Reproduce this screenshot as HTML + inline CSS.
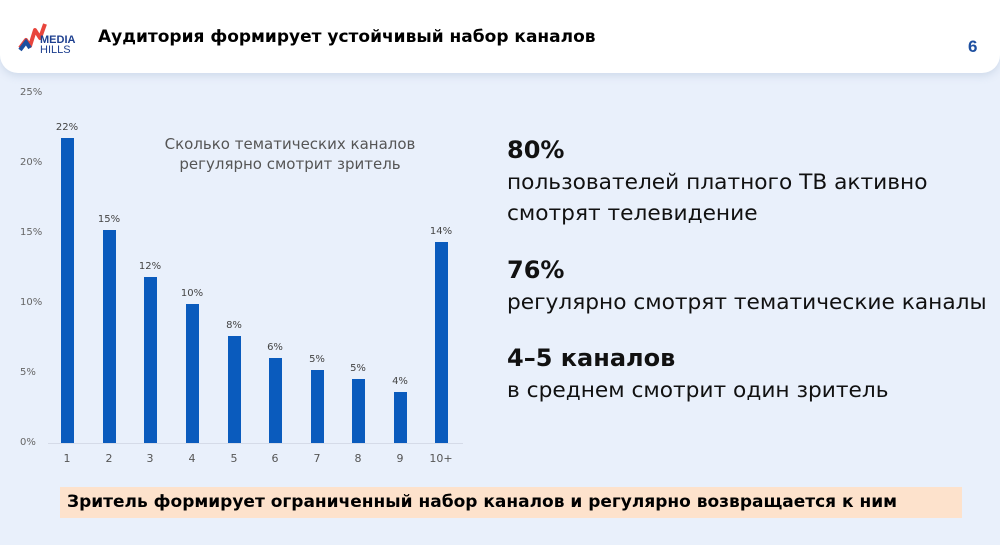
<!DOCTYPE html>
<html><head><meta charset="utf-8"><style>
body{margin:0;width:1000px;height:545px;background:#e9f0fb;font-family:"Liberation Sans","DejaVu Sans",sans-serif;position:relative;overflow:hidden}
.hdr{position:absolute;left:0;top:0;width:1000px;height:73px;background:#fff;border-radius:0 0 18px 18px;box-shadow:0 3px 8px rgba(150,170,200,.3)}
.t{position:absolute;font-weight:bold;color:#000}
.ax{position:absolute;font-size:10px;color:#666;font-family:"DejaVu Sans",sans-serif}
.bar{position:absolute;width:13px;background:#0a5bbd;bottom:102px}
.vl{position:absolute;font-size:10px;color:#444;width:40px;text-align:center;font-family:"DejaVu Sans",sans-serif}
.xl{position:absolute;top:452px;font-size:11px;color:#555;width:40px;text-align:center;font-family:"DejaVu Sans",sans-serif}
.r{position:absolute;left:507px;font-size:21.7px;color:#111;line-height:31px;font-family:"DejaVu Sans",sans-serif;white-space:nowrap}
.r b{font-size:24px}
</style></head><body>
<div class="hdr"></div>
<svg style="position:absolute;left:18px;top:18px" width="30" height="36" viewBox="0 0 30 36">
<path d="M2 30 L8 22 L12 28 L17 12 L22 20 L27 6" fill="none" stroke="#e8453c" stroke-width="4" stroke-linejoin="round"/>
<path d="M2 32 L8 24 L12 30" fill="none" stroke="#1d4fa0" stroke-width="4"/>
</svg>
<div style="position:absolute;left:40px;top:35px;font-size:11px;font-weight:bold;color:#1d3f8f;line-height:10px">MEDIA<br><span style="font-weight:normal">HILLS</span></div>
<div class="t" style="left:98px;top:27px;font-size:17px;font-family:'DejaVu Sans',sans-serif">Аудитория формирует устойчивый набор каналов</div>
<div class="t" style="left:968px;top:37px;font-size:17px;color:#1d4fa0">6</div>
<div class="ax" style="left:20px;top:87px">25%</div>
<div class="ax" style="left:20px;top:157px">20%</div>
<div class="ax" style="left:20px;top:227px">15%</div>
<div class="ax" style="left:20px;top:297px">10%</div>
<div class="ax" style="left:20px;top:367px">5%</div>
<div class="ax" style="left:20px;top:437px">0%</div>
<div style="position:absolute;left:48px;top:443px;width:415px;height:1px;background:#d5dbe8"></div>
<div class="bar" style="left:61px;height:305px"></div><div class="vl" style="left:47px;top:122px">22%</div><div class="xl" style="left:47px">1</div>
<div class="bar" style="left:103px;height:213px"></div><div class="vl" style="left:89px;top:214px">15%</div><div class="xl" style="left:89px">2</div>
<div class="bar" style="left:144px;height:166px"></div><div class="vl" style="left:130px;top:261px">12%</div><div class="xl" style="left:130px">3</div>
<div class="bar" style="left:186px;height:139px"></div><div class="vl" style="left:172px;top:288px">10%</div><div class="xl" style="left:172px">4</div>
<div class="bar" style="left:228px;height:107px"></div><div class="vl" style="left:214px;top:320px">8%</div><div class="xl" style="left:214px">5</div>
<div class="bar" style="left:269px;height:85px"></div><div class="vl" style="left:255px;top:342px">6%</div><div class="xl" style="left:255px">6</div>
<div class="bar" style="left:311px;height:73px"></div><div class="vl" style="left:297px;top:354px">5%</div><div class="xl" style="left:297px">7</div>
<div class="bar" style="left:352px;height:64px"></div><div class="vl" style="left:338px;top:363px">5%</div><div class="xl" style="left:338px">8</div>
<div class="bar" style="left:394px;height:51px"></div><div class="vl" style="left:380px;top:376px">4%</div><div class="xl" style="left:380px">9</div>
<div class="bar" style="left:435px;height:201px"></div><div class="vl" style="left:421px;top:226px">14%</div><div class="xl" style="left:421px">10+</div>
<div style="position:absolute;left:150px;top:134px;width:280px;text-align:center;font-size:15px;color:#555;line-height:20px;font-family:'DejaVu Sans',sans-serif">Сколько тематических каналов<br>регулярно смотрит зритель</div>
<div class="r" style="top:135px"><b>80%</b><br>пользователей платного ТВ активно<br>смотрят телевидение</div>
<div class="r" style="top:255px"><b>76%</b><br>регулярно смотрят тематические каналы</div>
<div class="r" style="top:343px"><b>4–5 каналов</b><br>в среднем смотрит один зритель</div>
<div style="position:absolute;left:60px;top:487px;width:902px;height:31px;background:#fde2cc"></div>
<div class="t" style="left:67px;top:492px;font-size:17px;font-family:'DejaVu Sans',sans-serif">Зритель формирует ограниченный набор каналов и регулярно возвращается к ним</div>
</body></html>
